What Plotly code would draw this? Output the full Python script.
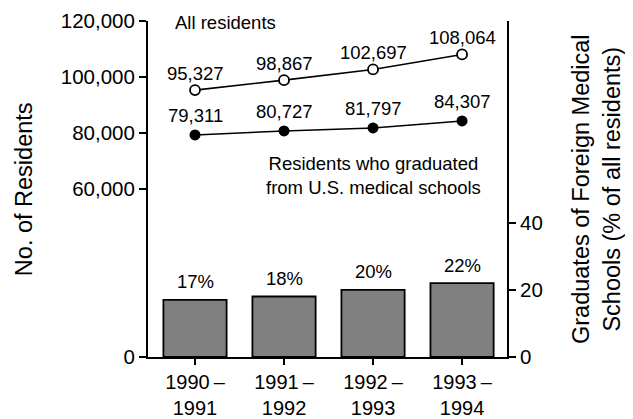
import plotly.graph_objects as go

years = ["1990\u2009\u2013<br>1991", "1991\u2009\u2013<br>1992", "1992\u2009\u2013<br>1993", "1993\u2009\u2013<br>1994"]
x_pos = [0, 1, 2, 3]
all_residents = [95327, 98867, 102697, 108064]
us_graduates = [79311, 80727, 81797, 84307]
foreign_pct = [17, 18, 20, 22]
left_ticks = [0, 60000, 80000, 100000, 120000]
right_ticks = [0, 20, 40]

FONT = "Liberation Sans, Arial, Helvetica, sans-serif"

fig = go.Figure()

fig.add_trace(go.Bar(
    x=x_pos, y=foreign_pct, yaxis="y2", width=0.71,
    marker=dict(color="#808080", line=dict(color="black", width=1.8)),
    showlegend=False, hoverinfo="skip",
))

fig.add_trace(go.Scatter(
    x=x_pos, y=all_residents, mode="lines+markers",
    line=dict(color="black", width=1.6),
    marker=dict(symbol="circle", size=10, color="white", line=dict(color="black", width=1.8)),
    showlegend=False,
))
fig.add_trace(go.Scatter(
    x=x_pos, y=us_graduates, mode="lines+markers",
    line=dict(color="black", width=1.6),
    marker=dict(symbol="circle", size=11, color="black"),
    showlegend=False,
))

annotations = []
for xi, v in zip(x_pos, all_residents):
    annotations.append(dict(x=xi, y=v, xref="x", yref="y", text=f"{v:,}", showarrow=False,
                            yshift=17, font=dict(size=18.5, color="black", family=FONT)))
for xi, v in zip(x_pos, us_graduates):
    annotations.append(dict(x=xi, y=v, xref="x", yref="y", text=f"{v:,}", showarrow=False,
                            yshift=19, font=dict(size=18.5, color="black", family=FONT)))
for xi, v in zip(x_pos, foreign_pct):
    annotations.append(dict(x=xi, y=v, xref="x", yref="y2", text=f"{v}%", showarrow=False,
                            yshift=18, font=dict(size=18.5, color="black", family=FONT)))

annotations.append(dict(x=-0.25, y=119300, xref="x", yref="y", text="All residents", showarrow=False,
                        xanchor="left", yanchor="middle", font=dict(size=18.5, color="black", family=FONT)))
annotations.append(dict(x=2.01, y=65000, xref="x", yref="y",
                        text="Residents who graduated<br>from U.S. medical schools", showarrow=False,
                        xanchor="center", yanchor="middle", align="center",
                        font=dict(size=18.5, color="black", family=FONT)))
annotations.append(dict(x=-0.345, y=0.5, xref="paper", yref="paper", text="No. of Residents",
                        textangle=-90, showarrow=False, xanchor="center", yanchor="middle",
                        font=dict(size=23.5, color="black", family=FONT)))
annotations.append(dict(x=1.248, y=0.5, xref="paper", yref="paper",
                        text="Graduates of Foreign Medical<br>Schools (% of all residents)",
                        textangle=-90, showarrow=False, xanchor="center", yanchor="middle", align="center",
                        font=dict(size=23.5, color="black", family=FONT)))

# the page body adds an 8px offset, so margins are reduced by 8px on the left/top
fig.update_layout(
    width=633, height=419,
    autosize=False,
    margin=dict(l=140, r=134, t=13, b=70, pad=0, autoexpand=False),
    paper_bgcolor="white", plot_bgcolor="white",
    font=dict(family=FONT, color="black", size=20),
    bargap=0.29,
    xaxis=dict(
        range=[-0.528, 3.505], tickvals=x_pos, ticktext=years, automargin=False,
        showline=True, linecolor="black", linewidth=2,
        ticks="outside", ticklen=6, tickwidth=2, tickcolor="black",
        showgrid=False, zeroline=False, tickfont=dict(size=20),
    ),
    yaxis=dict(
        range=[0, 120000], tickvals=left_ticks, tickformat=",", automargin=False,
        showline=True, linecolor="black", linewidth=2,
        ticks="outside", ticklen=7, tickwidth=2, tickcolor="black",
        showgrid=False, zeroline=False, tickfont=dict(size=20.5),
    ),
    yaxis2=dict(
        range=[0, 100], tickvals=right_ticks, overlaying="y", side="right", automargin=False,
        showline=True, linecolor="black", linewidth=2,
        ticks="outside", ticklen=7, tickwidth=2, tickcolor="black",
        showgrid=False, zeroline=False, tickfont=dict(size=20.5),
    ),
    annotations=annotations,
)

fig.write_html("out.html")
